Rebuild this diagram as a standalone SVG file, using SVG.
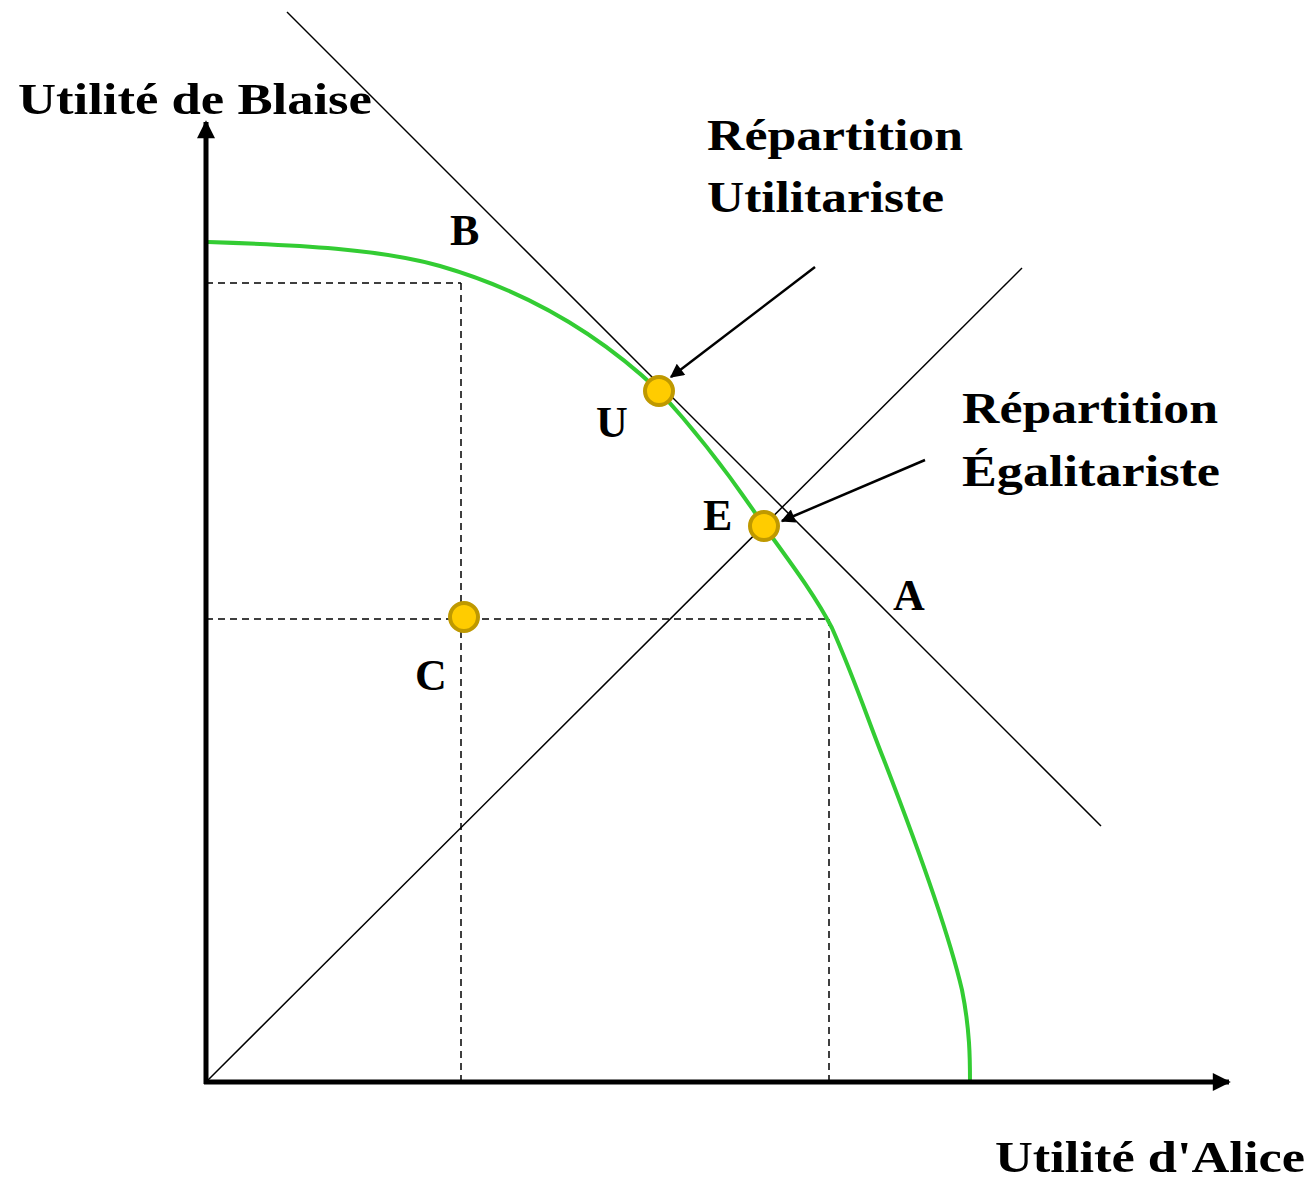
<svg xmlns="http://www.w3.org/2000/svg" width="1315" height="1180" viewBox="0 0 1315 1180">
<style>
.lbl{font-family:"Liberation Serif","DejaVu Serif",serif;font-weight:bold;font-size:44px;fill:#000}
.thin{stroke:#000;stroke-width:1.5;fill:none}
.dash{stroke:#000;stroke-width:1.5;stroke-dasharray:7,5;fill:none}
.axis{stroke:#000;stroke-width:5;fill:none}
.pt{fill:#ffcc00;stroke:#bf9900;stroke-width:4}
.ptr{stroke:#000;stroke-width:2.5;fill:none}
</style>
<defs>
<marker id="ptrh" viewBox="0 0 10 10" refX="9" refY="5" markerWidth="18" markerHeight="14" markerUnits="userSpaceOnUse" orient="auto"><path d="M0,0 L10,5 L0,10 Z" fill="#000"/></marker>
<marker id="axh" viewBox="0 0 10 10" refX="9" refY="5" markerWidth="22" markerHeight="18" markerUnits="userSpaceOnUse" orient="auto"><path d="M0,0 L10,5 L0,10 Z" fill="#000"/></marker>
</defs>
<g id="connectors">
<line class="dash" x1="206" y1="283" x2="461" y2="283"/>
<line class="dash" x1="461" y1="283" x2="461" y2="1082"/>
<line class="dash" x1="206" y1="619" x2="829" y2="619"/>
<line class="dash" x1="829" y1="619" x2="829" y2="1082"/>
<line class="thin" x1="206" y1="1082" x2="1022" y2="268"/>
<line class="thin" x1="287" y1="12" x2="1101" y2="826"/>
<path d="M208,242 C300,245 380,249 440,266 C530,292 600,335 659,391 C695,430 732,478 764,526 C790,562 815,595 832,628 C855,680 868,720 884,760 C915,840 948,930 962,990 C970,1030 970,1060 970,1082" fill="none" stroke="#33cc33" stroke-width="4"/>
<line class="axis" x1="206" y1="1084" x2="206" y2="122" marker-end="url(#axh)"/>
<line class="axis" x1="204" y1="1082" x2="1229" y2="1082" marker-end="url(#axh)"/>
<line class="ptr" x1="815" y1="267" x2="671" y2="377" marker-end="url(#ptrh)"/>
<line class="ptr" x1="925" y1="460" x2="782" y2="521" marker-end="url(#ptrh)"/>
</g>
<g id="node-U"><circle class="pt" cx="659" cy="391" r="14"/><text class="lbl" x="596" y="437">U</text></g>
<g id="node-E"><circle class="pt" cx="764" cy="526" r="14"/><text class="lbl" x="703" y="530">E</text></g>
<g id="node-C"><circle class="pt" cx="464" cy="617" r="14"/><text class="lbl" x="415" y="690">C</text></g>
<g id="label-B"><text class="lbl" x="450" y="245">B</text></g>
<g id="label-A"><text class="lbl" x="893" y="610">A</text></g>
<g id="label-yaxis"><text class="lbl" x="18" y="114" textLength="354" lengthAdjust="spacingAndGlyphs">Utilité de Blaise</text></g>
<g id="label-xaxis"><text class="lbl" x="995" y="1172" textLength="310" lengthAdjust="spacingAndGlyphs">Utilité d'Alice</text></g>
<g id="label-util"><text class="lbl" x="707" y="150" textLength="256" lengthAdjust="spacingAndGlyphs">Répartition</text><text class="lbl" x="707" y="212" textLength="237" lengthAdjust="spacingAndGlyphs">Utilitariste</text></g>
<g id="label-egal"><text class="lbl" x="962" y="423" textLength="256" lengthAdjust="spacingAndGlyphs">Répartition</text><text class="lbl" x="962" y="486" textLength="258" lengthAdjust="spacingAndGlyphs">Égalitariste</text></g>
</svg>
